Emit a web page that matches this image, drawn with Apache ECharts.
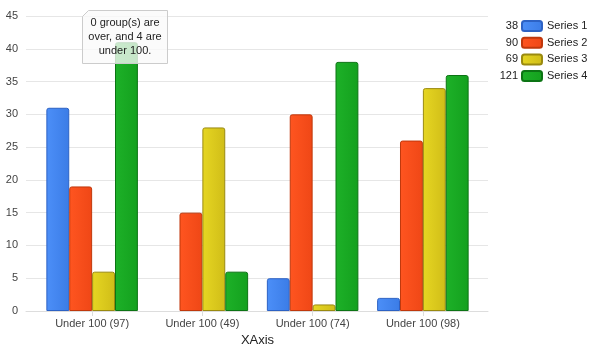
<!DOCTYPE html>
<html>
<head>
<meta charset="utf-8">
<script src="https://cdn.jsdelivr.net/npm/echarts@6/dist/echarts.min.js"></script>
<style>
  html, body { margin: 0; padding: 0; background: #fff; }
  #chart { width: 592px; height: 352px; }
</style>
</head>
<body>
<div id="chart"></div>
<script>
// data
var seriesNames = ['Series 1', 'Series 2', 'Series 3', 'Series 4'];
var series1 = [31, 0, 5, 2];
var series2 = [19, 15, 30, 26];
var series3 = [6, 28, 1, 34];
var series4 = [41, 6, 38, 36];
var yTicks = [0, 5, 10, 15, 20, 25, 30, 35, 40, 45];
var limit = 100;

var allData = [series1, series2, series3, series4];

// group totals -> category labels "Under 100 (97)"
var groupTotals = series1.map(function (v, i) {
  return series1[i] + series2[i] + series3[i] + series4[i];
});
var categories = groupTotals.map(function (t) {
  return (t > limit ? 'Over ' : 'Under ') + limit + ' (' + t + ')';
});
var seriesTotals = allData.map(function (arr) {
  return arr.reduce(function (a, b) { return a + b; }, 0);
});
var overCount = groupTotals.filter(function (t) { return t > limit; }).length;
var underCount = groupTotals.length - overCount;

// colours: [left, right, border]
var palette = [
  ['#4c8ff8', '#3b7ce6', '#2d62c4'],
  ['#ff5520', '#ef4716', '#c0380c'],
  ['#e6d622', '#d0bd18', '#9a8a10'],
  ['#1db128', '#14a01e', '#0c7414']
];

function grad(c) {
  return new echarts.graphic.LinearGradient(0, 0, 1, 0, [
    { offset: 0, color: c[0] },
    { offset: 1, color: c[1] }
  ]);
}

var legendTop = 20;
var legendStep = 16.7;

var chart = echarts.init(document.getElementById('chart'));

var option = {
  animation: false,
  backgroundColor: '#fff',
  textStyle: { fontFamily: 'Arial, "Liberation Sans", sans-serif' },
  grid: [
    { left: 26, right: 104, top: 16, bottom: 41 },
    { left: 37, right: 114, top: 16, bottom: 41 }
  ],
  xAxis: [
    {
      gridIndex: 0,
      type: 'category',
      data: [''],
      axisLine: { show: true, lineStyle: { color: '#dddddd' } },
      axisTick: { show: false },
      axisLabel: { show: false }
    },
    {
      gridIndex: 1,
      type: 'category',
      data: categories,
      name: 'XAxis',
      nameLocation: 'middle',
      nameGap: 22,
      nameTextStyle: { fontSize: 13, color: '#222' },
      axisLine: { show: false },
      axisTick: { show: true, alignWithLabel: true, length: 5, lineStyle: { color: '#dddddd' } },
      axisLabel: { fontSize: 11, color: '#444', margin: 7 }
    }
  ],
  yAxis: [
    {
      gridIndex: 0,
      type: 'value',
      min: yTicks[0],
      max: yTicks[yTicks.length - 1],
      interval: yTicks[1] - yTicks[0],
      axisLine: { show: false },
      axisTick: { show: false },
      axisLabel: { fontSize: 11, color: '#444', margin: 8 },
      splitLine: { lineStyle: { color: '#e6e6e6' } }
    },
    {
      gridIndex: 1,
      type: 'value',
      min: yTicks[0],
      max: yTicks[yTicks.length - 1],
      show: false,
      splitLine: { show: false }
    }
  ],
  legend: {
    orient: 'vertical',
    left: 521,
    top: legendTop,
    padding: 0,
    itemWidth: 20,
    itemHeight: 10,
    itemGap: 4.7,
    icon: 'roundRect',
    data: seriesNames,
    textStyle: { fontSize: 11, color: '#222', lineHeight: 12 }
  },
  graphic: [],
  series: allData.map(function (arr, i) {
    return {
      name: seriesNames[i],
      type: 'bar',
      xAxisIndex: 1,
      yAxisIndex: 1,
      data: arr.map(function (v) { return v === 0 ? null : v; }),
      barGap: '0%',
      barCategoryGap: '17%',
      itemStyle: {
        color: grad(palette[i]),
        borderColor: palette[i][2],
        borderWidth: 1,
        borderRadius: [2, 2, 0, 0]
      },
      emphasis: { disabled: true }
    };
  })
};

// totals to the left of each legend icon
seriesTotals.forEach(function (t, i) {
  option.graphic.push({
    type: 'text',
    right: 592 - 518,
    top: legendTop + i * legendStep + 0.5,
    style: { text: String(t), fontSize: 11, fill: '#222', textAlign: 'right' }
  });
});

// callout box
option.graphic.push({
  type: 'group',
  left: 82,
  top: 10,
  z: 100,
  children: [
    {
      type: 'polygon',
      z: 100,
      shape: { points: [[6, 0], [85, 0], [85, 53], [0, 53], [0, 6]] },
      style: { fill: 'rgba(250,250,250,0.78)', stroke: '#cccccc', lineWidth: 1 }
    },
    {
      type: 'text',
      z: 101,
      left: 0,
      top: 6,
      style: {
        text: overCount + ' group(s) are\nover, and ' + underCount + ' are\nunder ' + limit + '.',
        fontSize: 11,
        lineHeight: 13.7,
        fill: '#222',
        width: 85,
        align: 'center',
        x: 42.5,
        textAlign: 'center'
      }
    }
  ]
});

chart.setOption(option);
</script>
</body>
</html>
